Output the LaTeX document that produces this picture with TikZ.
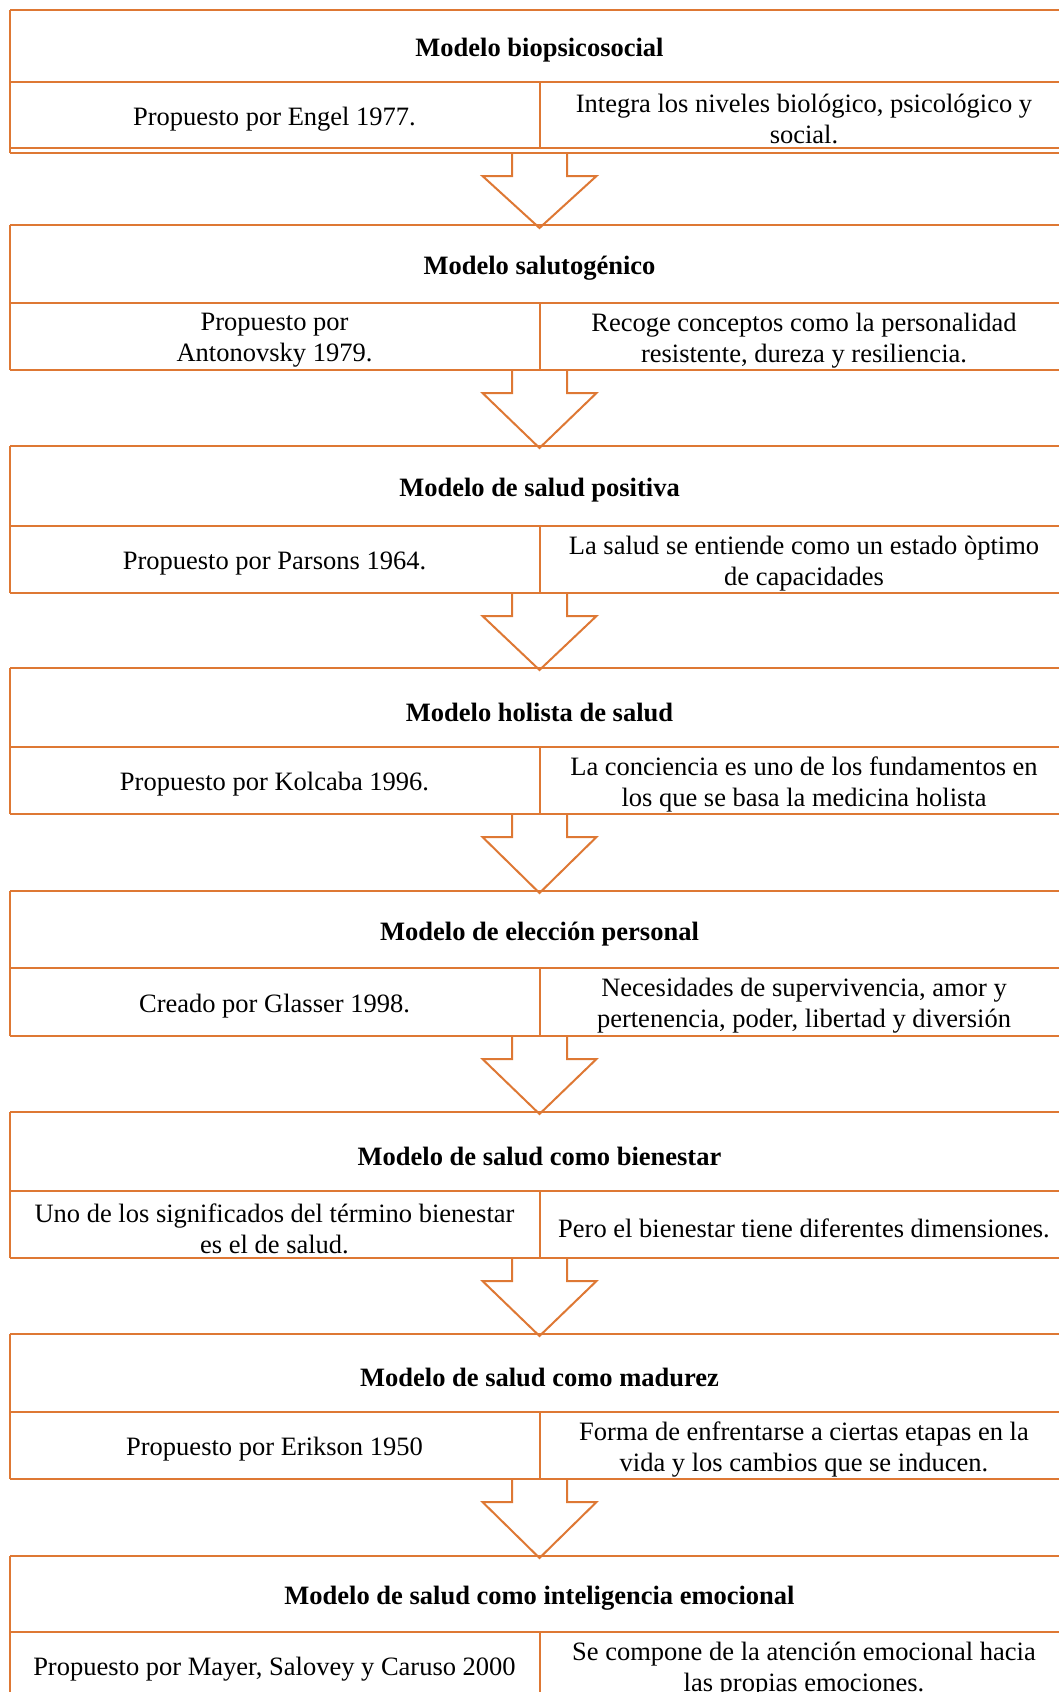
\documentclass[tikz,border=0pt]{standalone}
\usepackage{fontspec}
\setmainfont{Liberation Serif}
\definecolor{lineor}{RGB}{222,120,52}
\tikzset{
  tline/.style={draw=lineor, line width=2pt},
  htext/.style={font=\fontsize{26.5}{31}\selectfont\bfseries, align=center, inner sep=0pt},
  ctext/.style={font=\fontsize{26.5}{31}\selectfont, align=center, inner sep=0pt},
  barrow/.style={draw=lineor, line width=2pt, line join=miter}
}
% #1 top, #2 header line, #3 bottom, #4 name, #5 header, #6 left, #7 right
\newcommand\mblock[7]{%
  \draw[tline] (10,#1) -- (1075,#1);
  \draw[tline] (10,#2) -- (1075,#2);
  \draw[tline] (10,#3) -- (1075,#3);
  \draw[tline] (10,#1) -- (10,#3);
  \draw[tline] (539.5,#2) -- (539.5,#3);
  \node[htext] (h#4) at (539.5,{(#1+#2)/2+4.5}) {#5};
  \node[ctext] (l#4) at (274.5,{(#2+#3)/2+4}) {#6};
  \node[ctext] (r#4) at (804,{(#2+#3)/2+4}) {#7};
}
% #1 start (bottom of block), #2 tip y
\newcommand\marrow[2]{%
  \draw[barrow] (512,#1) -- (512,#1+23) -- (482.5,#1+23) -- (539.5,#2) -- (596.5,#1+23) -- (567,#1+23) -- (567,#1);
}
\begin{document}
\begin{tikzpicture}[x=1pt,y=-1pt]
\useasboundingbox (0,0) rectangle (1059,1692);
\clip (0,0) rectangle (1059,1692);
\fill[white] (0,0) rectangle (1059,1692);
\mblock{10}{82}{148}{a}{Modelo biopsicosocial}{Propuesto por Engel 1977.}{Integra los niveles biológico, psicológico y\\social.}
\draw[tline] (10,153) -- (1075,153);
\draw[tline] (10,148) -- (10,153);
\mblock{225}{303}{370}{b}{Modelo salutogénico}{Propuesto por\\Antonovsky 1979.}{Recoge conceptos como la personalidad\\resistente, dureza y resiliencia.}
\mblock{446}{526}{593}{c}{Modelo de salud positiva}{Propuesto por Parsons 1964.}{La salud se entiende como un estado òptimo\\de capacidades}
\mblock{668}{747}{814}{d}{Modelo holista de salud}{Propuesto por Kolcaba 1996.}{La conciencia es uno de los fundamentos en\\los que se basa la medicina holista}
\mblock{891}{968}{1036}{e}{Modelo de elección personal}{Creado por Glasser 1998.}{Necesidades de supervivencia, amor y\\pertenencia, poder, libertad y diversión}
\mblock{1112}{1191}{1258}{f}{Modelo de salud como bienestar}{Uno de los significados del término bienestar\\es el de salud.}{Pero el bienestar tiene diferentes dimensiones.}
\mblock{1334}{1412}{1479}{g}{Modelo de salud como madurez}{Propuesto por Erikson 1950}{Forma de enfrentarse a ciertas etapas en la\\vida y los cambios que se inducen.}
\mblock{1556}{1632}{1699}{k}{Modelo de salud como inteligencia emocional}{Propuesto por Mayer, Salovey y Caruso 2000}{Se compone de la atención emocional hacia\\las propias emociones.}
\marrow{153}{228}
\marrow{370}{448}
\marrow{593}{670}
\marrow{814}{893}
\marrow{1036}{1114}
\marrow{1258}{1336}
\marrow{1479}{1558}
\end{tikzpicture}
\end{document}
